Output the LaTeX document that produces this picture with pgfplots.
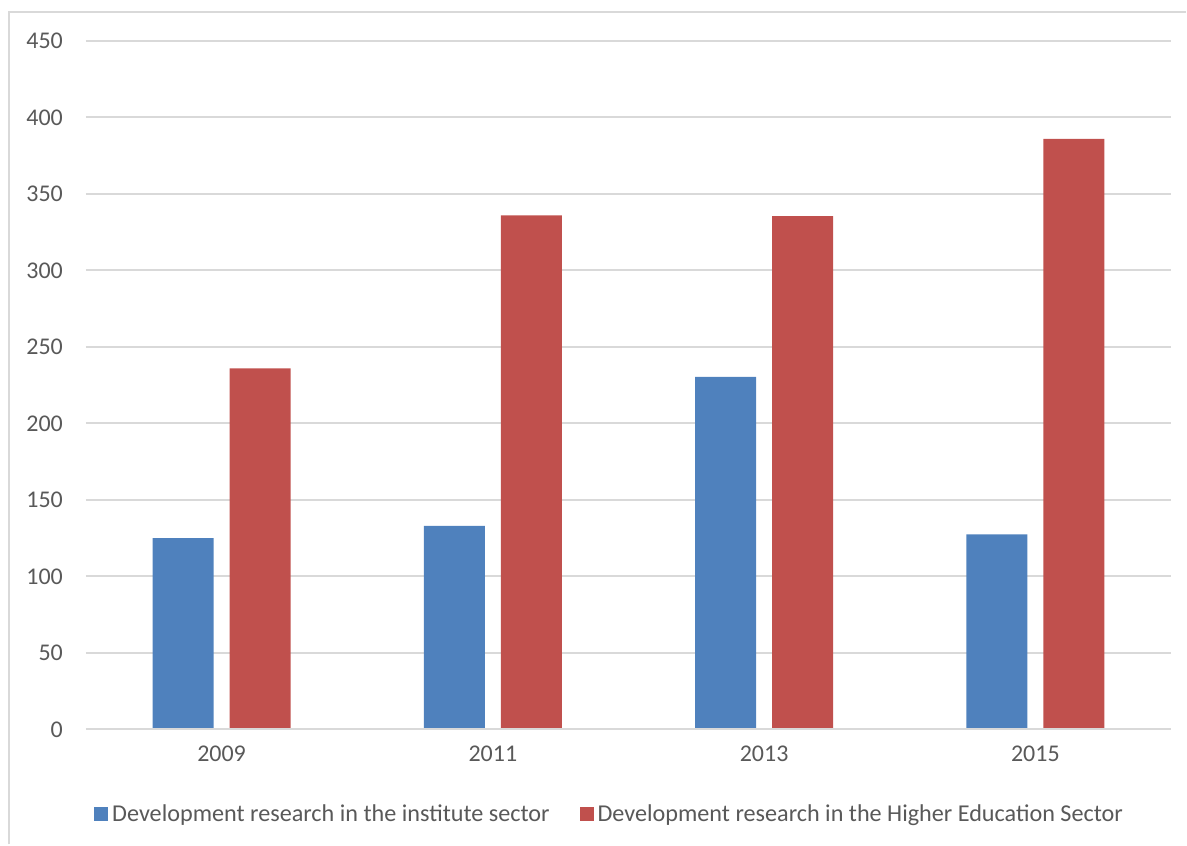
\documentclass[border=0pt]{standalone}
\usepackage{pgfplots}
\pgfplotsset{compat=1.18}
\usepackage{fontspec}
\setmainfont{Carlito}
\definecolor{bblue}{HTML}{4F81BD}
\definecolor{bred}{HTML}{C0504D}
\definecolor{gridc}{HTML}{D9D9D9}
\definecolor{txt}{HTML}{595959}
\begin{document}
\begin{tikzpicture}
\path (0,0) rectangle (593.5pt,422.5pt);
\draw[gridc, line width=1pt] (4.5pt,0) -- (4.5pt,416.5pt) -- (593.5pt,416.5pt);
\begin{axis}[
  at={(43pt,57.5pt)}, anchor=south west,
  scale only axis, width=543pt, height=344.5pt,
  xmin=-0.5, xmax=3.5, ymin=0, ymax=450,
  xtick={0,1,2,3}, xticklabels={2009,2011,2013,2015},
  ytick={0,50,...,450},
  ymajorgrids, grid style={gridc, line width=1pt},
  axis line style={draw=none},
  axis x line*=bottom,
  major tick length=0pt,
  tick label style={font=\fontsize{12}{14}\selectfont, text=txt},
  /pgf/number format/assume math mode=true,
  yticklabel style={xshift=-8pt},
  xticklabel style={yshift=-5pt},
  ybar, bar width=30.5pt,
  legend columns=2,
  legend style={draw=none, at={(0.4835,-0.1234)}, anchor=center,
    font=\fontsize{12.1}{14}\selectfont, text=txt,
    /tikz/every even column/.append style={column sep=13pt}},
  legend image code/.code={\fill[#1] (0pt,-3.5pt) rectangle (7pt,3.5pt);},
]
\addplot[fill=bblue, draw=none, bar shift=-19.25pt] coordinates {(0,125) (1,133) (2,230.5) (3,127.5)};
\addplot[fill=bred, draw=none, bar shift=19.25pt] coordinates {(0,236) (1,336) (2,335.5) (3,386)};
\draw[gridc, line width=1pt] (axis cs:-0.5,0) -- (axis cs:3.5,0);
\legend{Development research in the institute sector, Development research in the Higher Education Sector}
\end{axis}
\end{tikzpicture}
\end{document}
